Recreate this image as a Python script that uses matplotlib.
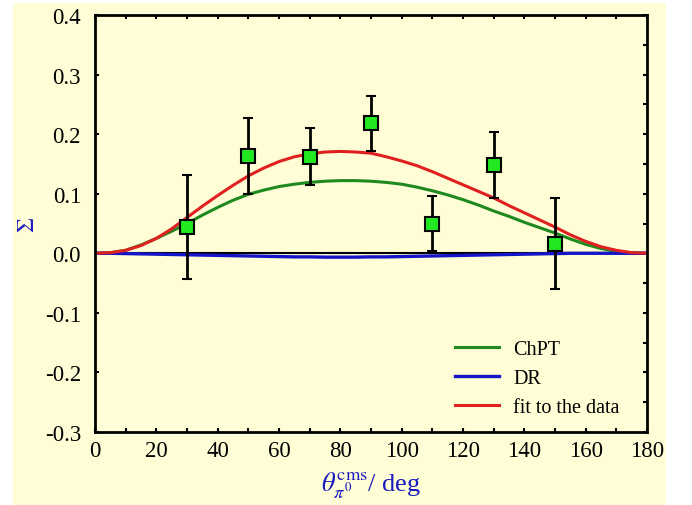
import matplotlib
matplotlib.use("Agg")
import matplotlib.pyplot as plt
from matplotlib.patches import Rectangle
from matplotlib.ticker import MultipleLocator

# measured asymmetry Sigma
theta = [30, 50, 70, 90, 110, 130, 150]
sigma = [0.044, 0.163, 0.162, 0.218, 0.050, 0.148, 0.016]
sigma_err = [0.087, 0.064, 0.048, 0.046, 0.046, 0.055, 0.076]

# curves (every 5 deg)
theta_curve = [0, 5, 10, 15, 20, 25, 30, 35, 40, 45, 50, 55, 60, 65, 70, 75, 80, 85, 90,
               95, 100, 105, 110, 115, 120, 125, 130, 135, 140, 145, 150, 155, 160, 165, 170, 175, 180]
chpt = [0.0, 0.001, 0.005, 0.014, 0.025, 0.037, 0.050, 0.064, 0.077, 0.089, 0.099, 0.106, 0.112,
        0.116, 0.119, 0.121, 0.122, 0.122, 0.121, 0.119, 0.116, 0.111, 0.105, 0.098, 0.090, 0.081,
        0.071, 0.062, 0.052, 0.043, 0.034, 0.024, 0.015, 0.008, 0.003, 0.001, 0.0]
dr = [0.0, 0.0, -0.0005, -0.001, -0.0015, -0.002, -0.0025, -0.003, -0.0035, -0.004, -0.0045,
      -0.005, -0.0055, -0.006, -0.006, -0.0065, -0.0065, -0.0065, -0.006, -0.006, -0.0055, -0.005,
      -0.0045, -0.004, -0.0035, -0.003, -0.0025, -0.002, -0.0015, -0.001, -0.0005, 0.0, 0.0, 0.0,
      0.0, 0.0, 0.0]
fit = [0.0, 0.001, 0.005, 0.013, 0.025, 0.041, 0.060, 0.079, 0.097, 0.114, 0.130, 0.143, 0.154,
       0.162, 0.167, 0.170, 0.171, 0.170, 0.168, 0.162, 0.155, 0.147, 0.137, 0.126, 0.115, 0.104,
       0.093, 0.080, 0.068, 0.056, 0.044, 0.031, 0.020, 0.011, 0.005, 0.001, 0.0]

plt.rcParams['font.family'] = ['Liberation Serif', 'DejaVu Serif']
plt.rcParams['mathtext.fontset'] = 'stix'

bg = '#FFFDD6'
fig = plt.figure(figsize=(6.92, 5.06), dpi=100, facecolor='white')
fig.patches.append(Rectangle((13 / 692, 0), 653 / 692, 502 / 506, transform=fig.transFigure,
                             facecolor=bg, edgecolor='none', zorder=-10))
ax = fig.add_axes([95 / 692, 73 / 506, 552 / 692, 417 / 506])
ax.set_facecolor(bg)

ax.axhline(0, color='black', lw=1.5, zorder=1)
ax.plot(theta_curve, chpt, color='#1E8A1E', lw=2.2, label='ChPT', zorder=2)
ax.plot(theta_curve, dr, color='#1515C8', lw=2.4, label='DR', zorder=2)
ax.plot(theta_curve, fit, color='#E02020', lw=2.2, label='fit to the data', zorder=2)

ax.errorbar(theta, sigma, yerr=sigma_err, fmt='s', color='black', ecolor='black', elinewidth=2,
            capsize=3.5, capthick=2, markersize=10, markerfacecolor='#22E822',
            markeredgecolor='black', markeredgewidth=1.5, zorder=3)

ax.set_xlim(0, 180)
ax.set_ylim(-0.3, 0.4)
ax.xaxis.set_major_locator(MultipleLocator(20))
ax.xaxis.set_minor_locator(MultipleLocator(10))
ax.yaxis.set_major_locator(MultipleLocator(0.1))
ax.yaxis.set_minor_locator(MultipleLocator(0.05))
ax.set_yticklabels([f'{v:.1f}' for v in ax.get_yticks()])
ax.tick_params(which='both', direction='in', top=True, right=True, width=1.5, labelsize=16.5)
ax.tick_params(which='major', length=3)
ax.tick_params(which='minor', length=3, left=False)
ax.tick_params(axis='y', pad=10)
ax.tick_params(axis='x', pad=6)
for s in ax.spines.values():
    s.set_linewidth(2)

ax.set_xlabel(r'$\theta_{\pi^0}^{\rm cms}$/ deg', color='#1A1AC0', fontsize=19, labelpad=5)
ax.set_ylabel(r'$\Sigma$', color='#1A1AC0', fontsize=17, labelpad=4)

ax.legend(loc='lower left', frameon=False, fontsize=14.5, handlelength=2.2, handletextpad=0.7,
          labelspacing=0.5, borderpad=0, borderaxespad=0, bbox_to_anchor=(0.652, 0.035))

fig.savefig('out.png', dpi=100, facecolor='white')
